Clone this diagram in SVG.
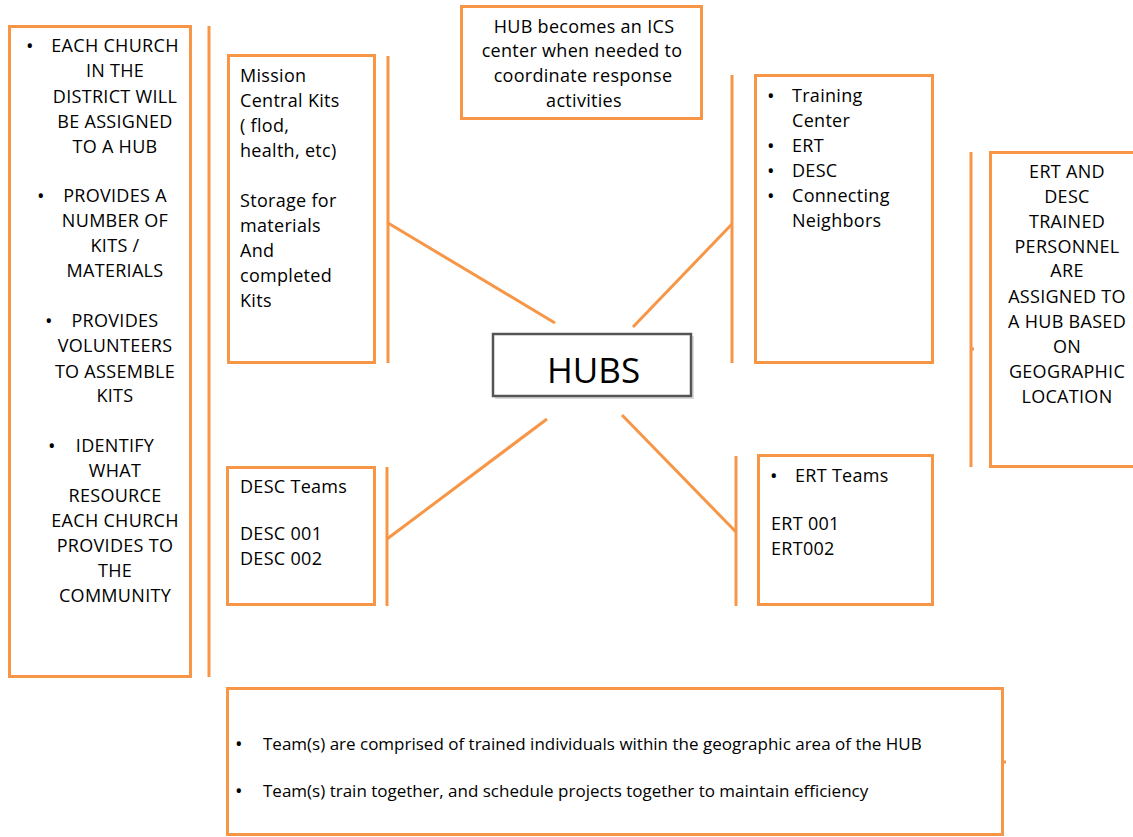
<svg xmlns="http://www.w3.org/2000/svg" width="1133" height="837" viewBox="0 0 1133 837">
<style>
.box{fill:#fff;stroke:#F79646;stroke-width:3}
.ln{stroke:#F79646;stroke-width:3;fill:none}
text{font-family:"Open Sans","Noto Sans","Liberation Sans",sans-serif;font-size:18px;letter-spacing:0.3px;fill:#000}
.c{text-anchor:middle}
.s{font-size:17px;letter-spacing:0}
.b{font-size:20px;letter-spacing:0}
</style>
<rect width="1133" height="837" fill="#fff"/>
<g id="connectors">
<line class="ln" x1="209" y1="26" x2="209" y2="677"/>
<line class="ln" x1="388" y1="56" x2="388" y2="363"/>
<line class="ln" x1="388" y1="223" x2="555" y2="323"/>
<line class="ln" x1="732" y1="75" x2="732" y2="363"/>
<line class="ln" x1="732" y1="224" x2="633" y2="327"/>
<line class="ln" x1="387" y1="467" x2="387" y2="606"/>
<line class="ln" x1="547" y1="419" x2="387" y2="539"/>
<line class="ln" x1="736" y1="456" x2="736" y2="606"/>
<line class="ln" x1="622" y1="415" x2="736" y2="532"/>
<line class="ln" x1="971" y1="152" x2="971" y2="467"/>
<line class="ln" x1="971" y1="349" x2="974" y2="349"/>
<line class="ln" x1="1002" y1="762" x2="1006" y2="762"/>
</g>
<g id="churches">
<rect class="box" x="9.5" y="26.5" width="181" height="650"/>
<text class="b" x="26" y="53">•</text>
<text class="c" x="115" y="52">EACH CHURCH</text>
<text class="c" x="115" y="77">IN THE</text>
<text class="c" x="115" y="103">DISTRICT WILL</text>
<text class="c" x="115" y="128">BE ASSIGNED</text>
<text class="c" x="115" y="153">TO A HUB</text>
<text class="b" x="37" y="203">•</text>
<text class="c" x="115" y="202">PROVIDES A</text>
<text class="c" x="115" y="227">NUMBER OF</text>
<text class="c" x="115" y="252">KITS /</text>
<text class="c" x="115" y="277">MATERIALS</text>
<text class="b" x="45" y="328">•</text>
<text class="c" x="115" y="327">PROVIDES</text>
<text class="c" x="115" y="352">VOLUNTEERS</text>
<text class="c" x="115" y="378">TO ASSEMBLE</text>
<text class="c" x="115" y="402">KITS</text>
<text class="b" x="48" y="453">•</text>
<text class="c" x="115" y="452">IDENTIFY</text>
<text class="c" x="115" y="477">WHAT</text>
<text class="c" x="115" y="502">RESOURCE</text>
<text class="c" x="115" y="527">EACH CHURCH</text>
<text class="c" x="115" y="552">PROVIDES TO</text>
<text class="c" x="115" y="577">THE</text>
<text class="c" x="115" y="602">COMMUNITY</text>
</g>
<g id="mission">
<rect class="box" x="228.5" y="55.5" width="146" height="307"/>
<text x="240" y="82">Mission</text>
<text x="240" y="107">Central Kits</text>
<text x="240" y="132">( flod,</text>
<text x="240" y="157">health, etc)</text>
<text x="240" y="207">Storage for</text>
<text x="240" y="232">materials</text>
<text x="240" y="257">And</text>
<text x="240" y="282">completed</text>
<text x="240" y="307">Kits</text>
</g>
<g id="ics">
<rect class="box" x="461.5" y="6.5" width="240" height="112"/>
<text class="c" x="584" y="33">HUB becomes an ICS</text>
<text class="c" x="582" y="57">center when needed to</text>
<text class="c" x="583" y="82">coordinate response</text>
<text class="c" x="584" y="107">activities</text>
</g>
<g id="hubs">
<rect x="495" y="336" width="199" height="63" fill="#bbb" opacity="0.5"/>
<rect x="493" y="334" width="198" height="62" fill="#fff" stroke="#555" stroke-width="2.5"/>
<text x="547" y="383" style="font-size:35px;letter-spacing:0">HUBS</text>
</g>
<g id="training">
<rect class="box" x="755.5" y="75.5" width="177" height="287"/>
<text class="b" x="767" y="103">•</text>
<text x="792" y="102">Training</text>
<text x="792" y="127">Center</text>
<text class="b" x="767" y="153">•</text>
<text x="792" y="152">ERT</text>
<text class="b" x="767" y="178">•</text>
<text x="792" y="177">DESC</text>
<text class="b" x="767" y="203">•</text>
<text x="792" y="202">Connecting</text>
<text x="792" y="227">Neighbors</text>
</g>
<g id="personnel">
<rect class="box" x="990.5" y="152.5" width="150" height="314"/>
<text class="c" x="1067" y="178">ERT AND</text>
<text class="c" x="1067" y="203">DESC</text>
<text class="c" x="1067" y="228">TRAINED</text>
<text class="c" x="1067" y="253">PERSONNEL</text>
<text class="c" x="1067" y="277">ARE</text>
<text class="c" x="1067" y="303">ASSIGNED TO</text>
<text class="c" x="1067" y="328">A HUB BASED</text>
<text class="c" x="1067" y="353">ON</text>
<text class="c" x="1067" y="378">GEOGRAPHIC</text>
<text class="c" x="1067" y="403">LOCATION</text>
</g>
<g id="desc">
<rect class="box" x="227.5" y="467.5" width="147" height="137"/>
<text x="240" y="493">DESC Teams</text>
<text x="240" y="540">DESC 001</text>
<text x="240" y="565">DESC 002</text>
</g>
<g id="ert">
<rect class="box" x="758.5" y="455.5" width="174" height="149"/>
<text class="b" x="770" y="483">•</text>
<text x="795" y="482">ERT Teams</text>
<text x="771" y="530">ERT 001</text>
<text x="771" y="555">ERT002</text>
</g>
<g id="teams">
<rect class="box" x="227.5" y="688.5" width="775" height="146"/>
<text class="b" x="235" y="751">•</text>
<text class="s" x="263" y="750">Team(s) are comprised of trained individuals within the geographic area of the HUB</text>
<text class="b" x="235" y="798">•</text>
<text class="s" x="263" y="797">Team(s) train together, and schedule projects together to maintain efficiency</text>
</g>
</svg>
